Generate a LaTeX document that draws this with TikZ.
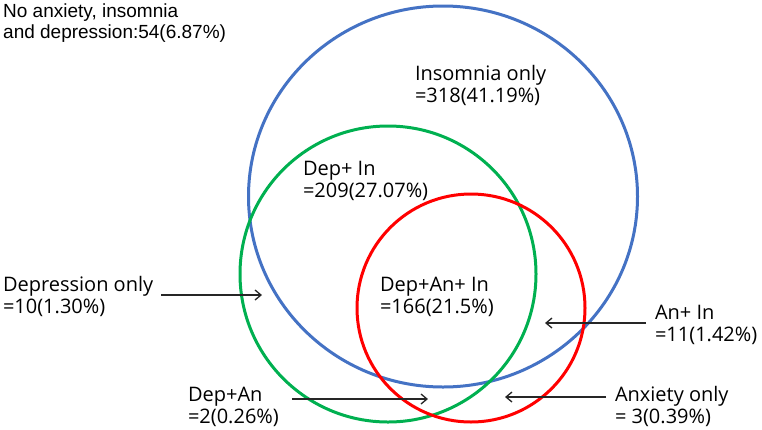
\documentclass[tikz,border=0pt]{standalone}
\usepackage{fontspec}
\setmainfont{Open Sans}
\newfontfamily\arialfont{Liberation Sans}
\usetikzlibrary{arrows.meta}
\definecolor{insblue}{RGB}{68,114,196}
\definecolor{depgreen}{RGB}{0,176,80}
\definecolor{anxred}{RGB}{255,0,0}
\tikzset{
  setring/.style={line width=3pt},
  venntext/.style={anchor=base west, align=left, inner sep=0pt, outer sep=0pt,
    font=\fontsize{20}{22}\selectfont},
  callout/.style={draw=black!85, line width=1.3pt,
    -{Straight Barb[length=6pt,width=10pt]}},
}
\begin{document}
\begin{tikzpicture}[x=1pt, y=-1pt]
\useasboundingbox (0,0) rectangle (762,429);
% the three sets
\draw[insblue, setring] (443,196.5) ellipse [x radius=194.5, y radius=190.5];
\draw[depgreen, setring] (388,274) circle [radius=148];
\draw[anxred, setring] (471,308) circle [radius=114];
% labels (placed at the baseline of their last line)
\node[anchor=base west, align=left, inner sep=0pt,
  font=\arialfont\fontsize{19}{21}\selectfont] (noneall) at (3,38)
  {No anxiety, insomnia\\and depression:54(6.87\%)};
\node[venntext] (insonly) at (415,102) {Insomnia only\\=318(41.19\%)};
\node[venntext] (depin) at (303,197) {Dep+ In\\=209(27.07\%)};
\node[venntext] (allthree) at (380,313) {Dep+An+ In\\=166(21.5\%)};
\node[venntext] (deponly) at (3,313) {Depression only\\=10(1.30\%)};
\node[venntext] (anin) at (655,341) {An+ In\\=11(1.42\%)};
\node[venntext] (depan) at (188,423) {Dep+An\\=2(0.26\%)};
\node[venntext] (anxonly) at (615,423) {Anxiety only\\= 3(0.39\%)};
% arrows into the small regions
\coordinate (deponly-tip) at (262,295);
\coordinate (anin-tip) at (545,323);
\coordinate (depan-tip) at (428,399);
\coordinate (anxonly-tip) at (505,397);
\draw[callout] ([xshift=8pt]deponly.east |- deponly-tip) -- (deponly-tip);
\draw[callout] ([xshift=-9pt]anin.west |- anin-tip) -- (anin-tip);
\draw[callout] ([xshift=13pt]depan.east |- depan-tip) -- (depan-tip);
\draw[callout] ([xshift=-9pt]anxonly.west |- anxonly-tip) -- (anxonly-tip);
\end{tikzpicture}
\end{document}
